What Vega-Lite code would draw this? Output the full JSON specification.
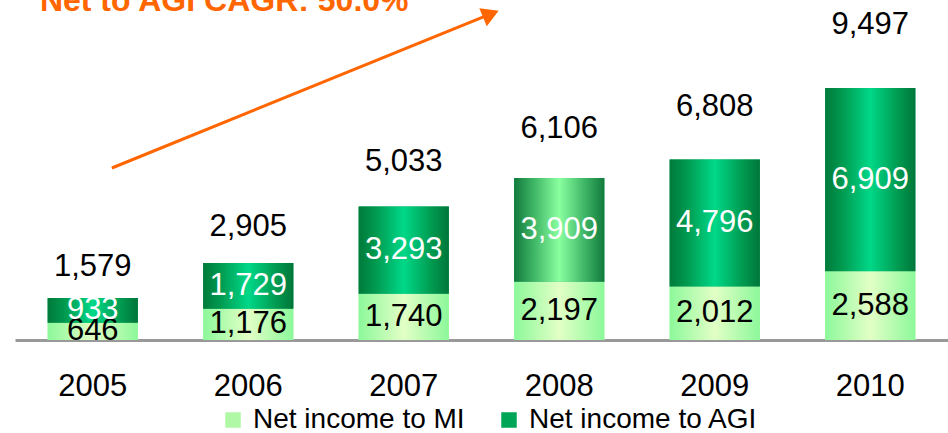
{
  "$schema": "https://vega.github.io/schema/vega-lite/v6.json",
  "width": 933,
  "height": 340,
  "autosize": {"type": "none"},
  "padding": {"left": 15, "top": 0, "right": 0, "bottom": 93},
  "background": "white",
  "config": {
    "view": {"stroke": null},
    "font": "Liberation Sans",
    "text": {"font": "Liberation Sans"}
  },
  "datasets": {
    "bars": [
      {"year": "2005", "series": "Net income to MI", "value": 646},
      {"year": "2005", "series": "Net income to AGI", "value": 933},
      {"year": "2006", "series": "Net income to MI", "value": 1176},
      {"year": "2006", "series": "Net income to AGI", "value": 1729},
      {"year": "2007", "series": "Net income to MI", "value": 1740},
      {"year": "2007", "series": "Net income to AGI", "value": 3293},
      {"year": "2008", "series": "Net income to MI", "value": 2197},
      {"year": "2008", "series": "Net income to AGI", "value": 3909},
      {"year": "2009", "series": "Net income to MI", "value": 2012},
      {"year": "2009", "series": "Net income to AGI", "value": 4796},
      {"year": "2010", "series": "Net income to MI", "value": 2588},
      {"year": "2010", "series": "Net income to AGI", "value": 6909}
    ],
    "arrow": [
      {"x": 0.123, "y": 6483, "x2": 2.56, "y2": 12290}
    ],
    "note": [
      {"x": -0.34, "y": 12400, "label": "Net to AGI CAGR: 50.0%"}
    ]
  },
  "resolve": {"scale": {"x": "independent", "y": "independent"}, "axis": {"x": "independent", "y": "independent"}},
  "layer": [
    {
      "data": {"name": "bars"},
      "transform": [
        {"stack": "value", "groupby": ["year"], "as": ["y0", "y1"], "sort": [{"field": "series", "order": "descending"}]},
        {"calculate": "(datum.y0 + datum.y1) / 2", "as": "mid"}
      ],
      "encoding": {
        "x": {
          "field": "year", "type": "nominal",
          "scale": {"domain": ["2005", "2006", "2007", "2008", "2009", "2010"], "paddingInner": 0.42, "paddingOuter": 0.21},
          "axis": {
            "title": null, "labelAngle": 0, "labelFontSize": 31, "labelColor": "#000000",
            "labelFont": "Liberation Sans", "labelPadding": 31,
            "ticks": false, "domainColor": "#999999", "domainWidth": 3, "grid": false
          }
        }
      },
      "layer": [
        {
          "mark": {"type": "bar"},
          "encoding": {
            "y": {"field": "y0", "type": "quantitative", "scale": {"domain": [0, 12816], "nice": false, "zero": true}, "axis": null},
            "y2": {"field": "y1"},
            "color": {
              "field": "series", "type": "nominal",
              "scale": {"domain": ["Net income to MI", "Net income to AGI"], "range": ["#b0f7a6", "#00a555"]},
              "legend": {
                "title": null, "orient": "none", "direction": "horizontal",
                "legendX": 204, "legendY": 406,
                "symbolType": "square", "symbolSize": 240, "symbolStrokeWidth": 0,
                "labelFontSize": 28, "labelFont": "Liberation Sans", "labelColor": "#000000",
                "labelOffset": 6, "columnPadding": 30, "labelLimit": 400
              }
            }
          }
        },
        {
          "transform": [{"filter": "datum.series === 'Net income to MI'"}],
          "mark": {
            "type": "bar",
            "fill": {"gradient": "linear", "x1": 0, "y1": 0, "x2": 1, "y2": 0,
              "stops": [
                {"offset": 0, "color": "#8cf89a"},
                {"offset": 0.5, "color": "#e2ffc6"},
                {"offset": 1, "color": "#8cf89a"}
              ]}
          },
          "encoding": {
            "y": {"field": "y0", "type": "quantitative", "scale": {"domain": [0, 12816], "nice": false}},
            "y2": {"field": "y1"}
          }
        },
        {
          "transform": [{"filter": "datum.series === 'Net income to AGI' && datum.year !== '2008'"}],
          "mark": {
            "type": "bar",
            "fill": {"gradient": "linear", "x1": 0, "y1": 0, "x2": 1, "y2": 0,
              "stops": [
                {"offset": 0, "color": "#007a3a"},
                {"offset": 0.18, "color": "#00984e"},
                {"offset": 0.5, "color": "#00d888"},
                {"offset": 0.82, "color": "#00984e"},
                {"offset": 1, "color": "#00763a"}
              ]}
          },
          "encoding": {
            "y": {"field": "y0", "type": "quantitative", "scale": {"domain": [0, 12816], "nice": false}},
            "y2": {"field": "y1"}
          }
        },
        {
          "transform": [{"filter": "datum.series === 'Net income to AGI' && datum.year === '2008'"}],
          "mark": {
            "type": "bar",
            "fill": {"gradient": "linear", "x1": 0, "y1": 0, "x2": 1, "y2": 0,
              "stops": [
                {"offset": 0, "color": "#127a3c"},
                {"offset": 0.22, "color": "#3fb666"},
                {"offset": 0.5, "color": "#8affa0"},
                {"offset": 0.78, "color": "#3fb666"},
                {"offset": 1, "color": "#127a3c"}
              ]}
          },
          "encoding": {
            "y": {"field": "y0", "type": "quantitative", "scale": {"domain": [0, 12816], "nice": false}},
            "y2": {"field": "y1"}
          }
        },
        {
          "mark": {"type": "text", "fontSize": 31, "baseline": "middle", "align": "center", "font": "Liberation Sans"},
          "encoding": {
            "y": {"field": "mid", "type": "quantitative", "scale": {"domain": [0, 12816], "nice": false}},
            "text": {"field": "value", "type": "quantitative", "format": ","},
            "color": {"condition": {"test": "datum.series === 'Net income to AGI'", "value": "#ffffff"}, "value": "#000000"}
          }
        }
      ]
    },
    {
      "data": {"name": "bars"},
      "transform": [
        {"aggregate": [{"op": "sum", "field": "value", "as": "total"}], "groupby": ["year"]}
      ],
      "mark": {"type": "text", "fontSize": 31, "baseline": "middle", "align": "center", "color": "#000000", "font": "Liberation Sans"},
      "encoding": {
        "x": {
          "field": "year", "type": "nominal",
          "scale": {"domain": ["2005", "2006", "2007", "2008", "2009", "2010"], "paddingInner": 0.42, "paddingOuter": 0.21},
          "axis": null
        },
        "y": {"field": "total", "type": "quantitative", "scale": {"domain": [-808, 10318], "nice": false, "zero": false}, "axis": null},
        "text": {"field": "total", "type": "quantitative", "format": ","}
      }
    },
    {
      "resolve": {"scale": {"x": "shared", "y": "shared"}},
      "layer": [
        {
          "data": {"name": "arrow"},
          "mark": {"type": "rule", "color": "#ff6600", "strokeWidth": 3},
          "encoding": {
            "x": {"field": "x", "type": "quantitative", "scale": {"domain": [-0.5, 5.5], "nice": false, "zero": false}, "axis": null},
            "y": {"field": "y", "type": "quantitative", "scale": {"domain": [0, 12816], "nice": false}, "axis": null},
            "x2": {"field": "x2"},
            "y2": {"field": "y2"}
          }
        },
        {
          "data": {"name": "arrow"},
          "mark": {"type": "point", "shape": "triangle-up", "filled": true, "color": "#ff6600", "size": 380, "angle": 67.5, "opacity": 1},
          "encoding": {
            "x": {"field": "x2", "type": "quantitative", "scale": {"domain": [-0.5, 5.5], "nice": false, "zero": false}, "axis": null},
            "y": {"field": "y2", "type": "quantitative", "scale": {"domain": [0, 12816], "nice": false}, "axis": null}
          }
        },
        {
          "data": {"name": "note"},
          "mark": {"type": "text", "fontSize": 32, "fontWeight": "bold", "align": "left", "baseline": "alphabetic", "color": "#ff6600", "font": "Liberation Sans"},
          "encoding": {
            "x": {"field": "x", "type": "quantitative", "scale": {"domain": [-0.5, 5.5], "nice": false, "zero": false}, "axis": null},
            "y": {"field": "y", "type": "quantitative", "scale": {"domain": [0, 12816], "nice": false}, "axis": null},
            "text": {"field": "label"}
          }
        }
      ]
    }
  ]
}
